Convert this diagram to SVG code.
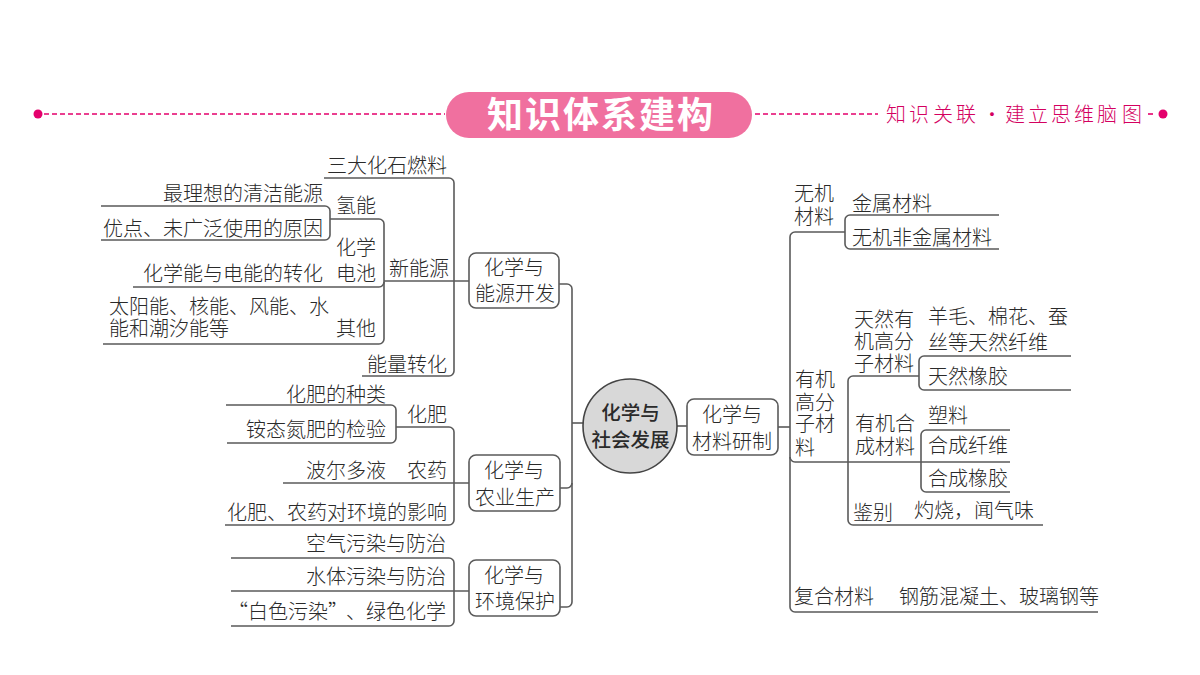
<svg xmlns="http://www.w3.org/2000/svg" width="1200" height="675" viewBox="0 0 1200 675">
<style>
text{font-family:"Noto Sans CJK SC","Noto Sans",sans-serif;font-size:20px;fill:#2a2a2a;font-weight:300}
.e{text-anchor:end}
.m{text-anchor:middle}
.c path{fill:none;stroke:#5a5a5a;stroke-width:1.6}
.b{fill:#fff;stroke:#5a5a5a;stroke-width:1.6}
.h{fill:none;stroke:#e4006c;stroke-width:1.6;stroke-dasharray:5 3}
.p{fill:#e4006c}
.t{fill:#fff;font-size:36px;font-weight:700;text-anchor:middle;letter-spacing:2px}
.s{fill:#d4005f;font-size:20px;font-weight:300}
.k{font-weight:500;font-size:19.500px;text-anchor:middle}
</style>
<rect width="1200" height="675" fill="#fff"/>
<g id="header">
<path class="h" d="M44 114H445"/>
<path class="h" d="M755 114H878"/>
<path class="h" d="M1148 114H1156"/>
<circle class="p" cx="38" cy="114" r="4.500"/>
<circle class="p" cx="1163" cy="114" r="4.500"/>
<rect x="446" y="92" width="306" height="46" rx="23" fill="#f0709f"/>
<text class="t" x="601" y="128">知识体系建构</text>
<text class="s" y="122"><tspan x="886">知</tspan><tspan x="909">识</tspan><tspan x="933">关</tspan><tspan x="956">联</tspan><tspan x="982">·</tspan><tspan x="1005">建</tspan><tspan x="1028">立</tspan><tspan x="1051">思</tspan><tspan x="1074">维</tspan><tspan x="1097">脑</tspan><tspan x="1122">图</tspan></text>
</g>
<g id="connectors" class="c">
<path d="M324 178H449a5 5 0 0 1 5 5V371a5 5 0 0 1-5 5H362"/>
<path d="M384 281H469"/>
<path d="M330 219H379a5 5 0 0 1 5 5V339a5 5 0 0 1-5 5H103"/>
<path d="M133 287H379a5 5 0 0 0 5-5"/>
<path d="M101 206H325a5 5 0 0 1 5 5V235a5 5 0 0 1-5 5H101"/>
<path d="M559 284H567a5 5 0 0 1 5 5V602a5 5 0 0 1-5 5H559"/>
<path d="M560 488H567a5 5 0 0 0 5-5"/>
<path d="M572 423H584"/>
<path d="M226 405H391a5 5 0 0 1 5 5V438a5 5 0 0 1-5 5H227"/>
<path d="M396 427H449a5 5 0 0 1 5 5V520a5 5 0 0 1-5 5H225"/>
<path d="M283 483H469"/>
<path d="M231 558H449a5 5 0 0 1 5 5V621a5 5 0 0 1-5 5H231"/>
<path d="M231 591H469"/>
<path d="M677 426H687"/>
<path d="M778 427H790"/>
<path d="M845 232H795a5 5 0 0 0-5 5V607a5 5 0 0 0 5 5H1098"/>
<path d="M790 457a5 5 0 0 0 5 5H1010"/>
<path d="M999 215H850a5 5 0 0 0-5 5V244a5 5 0 0 0 5 5H999"/>
<path d="M919 376H853a5 5 0 0 0-5 5V520a5 5 0 0 0 5 5H1043"/>
<path d="M1071 356H924a5 5 0 0 0-5 5V385a5 5 0 0 0 5 5H1071"/>
<path d="M1010 430H926a5 5 0 0 0-5 5V487a5 5 0 0 0 5 5H1010"/>
</g>
<g id="root"><circle cx="630" cy="426" r="47" fill="#d8d8d8" stroke="#444" stroke-width="1.600"/><text class="k" x="630.500" y="420">化学与</text><text class="k" x="630.500" y="447">社会发展</text></g>
<g id="energy"><rect class="b" x="469" y="253" width="90" height="55" rx="7"/><text class="m" x="514" y="275">化学与</text><text class="m" x="515" y="301">能源开发</text></g>
<g id="agri"><rect class="b" x="469" y="455" width="91" height="56" rx="7"/><text class="m" x="514" y="478">化学与</text><text class="m" x="515" y="505">农业生产</text></g>
<g id="env"><rect class="b" x="469" y="560" width="91" height="56" rx="7"/><text class="m" x="514" y="583">化学与</text><text class="m" x="515" y="609">环境保护</text></g>
<g id="material"><rect class="b" x="687" y="399" width="91" height="56" rx="7"/><text class="m" x="732" y="422">化学与</text><text class="m" x="732" y="449">材料研制</text></g>
<g id="energy-items" transform="translate(0 1)">
<text class="e" x="447" y="172">三大化石燃料</text>
<text class="e" x="323" y="200">最理想的清洁能源</text>
<text x="336" y="212">氢能</text>
<text class="e" x="323" y="235">优点、未广泛使用的原因</text>
<text x="336" y="254">化学</text>
<text x="336" y="280">电池</text>
<text class="e" x="323" y="280">化学能与电能的转化</text>
<text x="389" y="275">新能源</text>
<text x="109" y="313">太阳能、核能、风能、水</text>
<text x="109" y="335">能和潮汐能等</text>
<text x="336" y="335">其他</text>
<text class="e" x="447" y="371">能量转化</text>
</g>
<g id="agri-items" transform="translate(0 1)">
<text class="e" x="386" y="401">化肥的种类</text>
<text class="e" x="386" y="436">铵态氮肥的检验</text>
<text x="407" y="421">化肥</text>
<text class="e" x="386" y="477">波尔多液</text>
<text x="407" y="477">农药</text>
<text class="e" x="447" y="519">化肥、农药对环境的影响</text>
</g>
<g id="env-items" transform="translate(0 1)">
<text class="e" x="446" y="550">空气污染与防治</text>
<text class="e" x="446" y="583">水体污染与防治</text>
<text y="618"><tspan x="228">“</tspan><tspan x="248">白色污染</tspan><tspan x="328">”</tspan><tspan x="346">、</tspan><tspan x="366">绿色化学</tspan></text>
</g>
<g id="material-items" transform="translate(0 1)">
<text x="794" y="200">无机</text>
<text x="794" y="223">材料</text>
<text x="852" y="210">金属材料</text>
<text x="852" y="244">无机非金属材料</text>
<text x="795" y="386">有机</text>
<text x="795" y="409">高分</text>
<text x="795" y="430">子材</text>
<text x="795" y="454">料</text>
<text x="854" y="326">天然有</text>
<text x="854" y="348">机高分</text>
<text x="854" y="370">子材料</text>
<text x="928" y="323">羊毛、棉花、蚕</text>
<text x="928" y="349">丝等天然纤维</text>
<text x="928" y="383">天然橡胶</text>
<text x="855" y="430">有机合</text>
<text x="855" y="453">成材料</text>
<text x="928" y="422">塑料</text>
<text x="928" y="452">合成纤维</text>
<text x="928" y="485">合成橡胶</text>
<text x="853" y="519">鉴别</text>
<text x="914" y="517">灼烧，闻气味</text>
<text x="794" y="603">复合材料</text>
<text x="899" y="603">钢筋混凝土、玻璃钢等</text>
</g>
</svg>
